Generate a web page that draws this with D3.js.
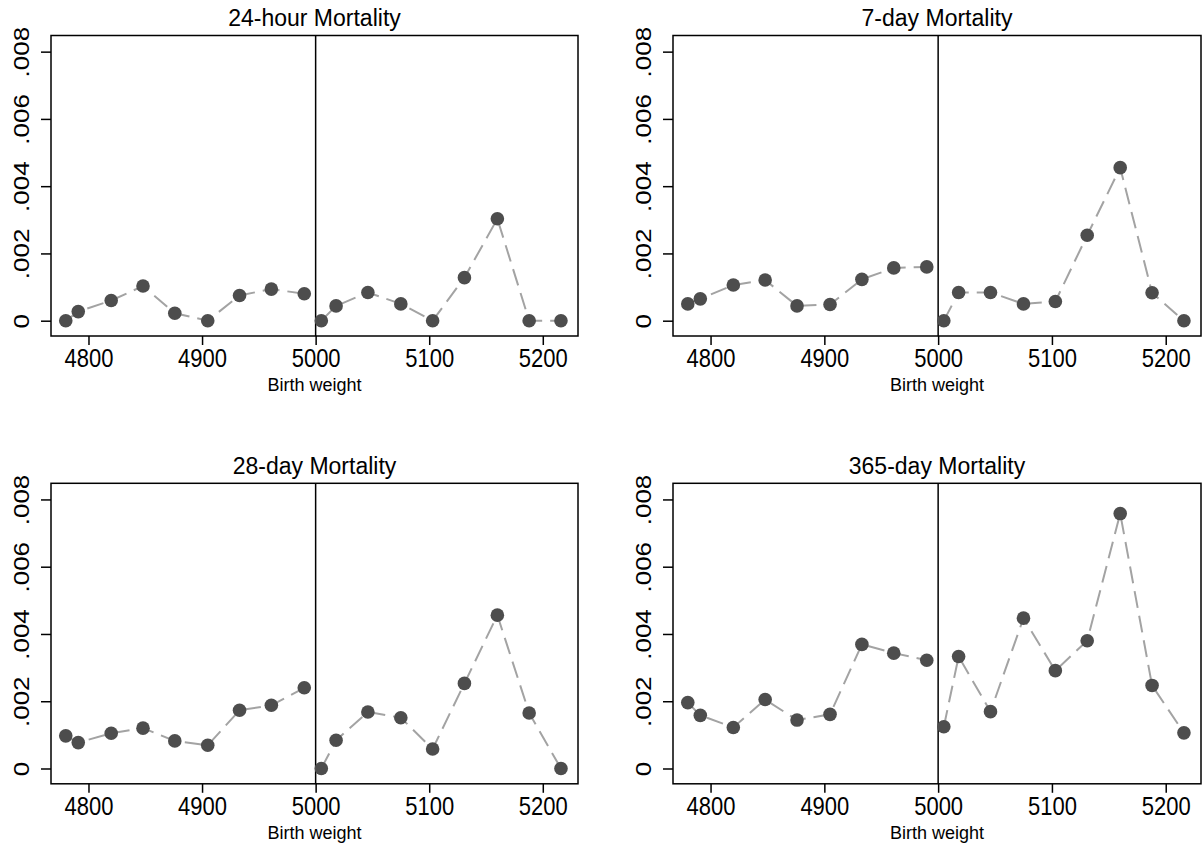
<!DOCTYPE html>
<html>
<head>
<meta charset="utf-8">
<script src="https://cdn.jsdelivr.net/npm/d3@7"></script>
<style>
    body { margin: 0; background: #ffffff; }
    svg { display: block; }
</style>
</head>
<body>
<svg id="drawing_region"></svg>
<script>

// birth weight bins (grams)
const weights = [4780, 4791, 4820, 4848, 4876, 4905, 4933, 4961, 4990,
                 5005, 5018, 5046, 5075, 5103, 5131, 5160, 5188, 5216];

const mort24  = [0, 0.00027, 0.0006, 0.00103, 0.00022, 0, 0.00075, 0.00094, 0.0008,
                 0, 0.00044, 0.00084, 0.0005, 0, 0.00128, 0.00303, 0, 0];
const mort7   = [0.0005, 0.00065, 0.00106, 0.00121, 0.00044, 0.00048, 0.00123, 0.00157, 0.0016,
                 0, 0.00084, 0.00084, 0.0005, 0.00057, 0.00254, 0.00455, 0.00083, 0];
const mort28  = [0.00097, 0.00077, 0.00105, 0.0012, 0.00082, 0.00069, 0.00173, 0.00188, 0.0024,
                 0, 0.00084, 0.00168, 0.00151, 0.00058, 0.00253, 0.00456, 0.00165, 0];
const mort365 = [0.00196, 0.00158, 0.00122, 0.00205, 0.00144, 0.00161, 0.00369, 0.00343, 0.00322,
                 0.00124, 0.00333, 0.00169, 0.00447, 0.00291, 0.0038, 0.00758, 0.00247, 0.00106];

const titles = ["24-hour Mortality", "7-day Mortality", "28-day Mortality", "365-day Mortality"];
const xTicks = [4800, 4900, 5000, 5100, 5200];
const yTicks = [0, 0.002, 0.004, 0.006, 0.008];
const yTickLabels = ["0", ".002", ".004", ".006", ".008"];
const cutoff = 5000;
const xLabel = "Birth weight";


class MortalityPlot {

    constructor(config, data) {
        this.config = {
            parent: config.parent,
            left: config.left,
            top: config.top,
            width: config.width || 527,
            height: config.height || 300,
            title: config.title
        };
        this.data = data;
        this.font = "'Liberation Sans', Arial, Helvetica, sans-serif";
        this.init();
    }

    init() {
        let self = this;

        self.chart = d3.select(self.config.parent).append('g')
            .attr('transform', `translate(${self.config.left}, ${self.config.top})`);

        self.xscale = d3.scaleLinear()
            .domain([4767, 5231])
            .range([0, self.config.width]);

        self.yscale = d3.scaleLinear()
            .domain([-0.000455, 0.00848])
            .range([self.config.height, 0]);

        self.xaxis = d3.axisBottom(self.xscale)
            .tickValues(xTicks)
            .tickFormat(d3.format('d'))
            .tickSize(9)
            .tickSizeOuter(0);

        self.yaxis = d3.axisLeft(self.yscale)
            .tickValues(yTicks)
            .tickFormat((d, i) => yTickLabels[i])
            .tickSize(10)
            .tickSizeOuter(0);

        self.xaxis_group = self.chart.append('g')
            .attr('transform', `translate(0, ${self.config.height})`)
            .call(self.xaxis);

        self.yaxis_group = self.chart.append('g')
            .call(self.yaxis);

        self.xaxis_group.select('.domain').remove();
        self.yaxis_group.select('.domain').remove();

        self.xaxis_group.selectAll('line').attr('stroke', '#000').attr('stroke-width', 1.5);
        self.yaxis_group.selectAll('line').attr('stroke', '#000').attr('stroke-width', 1.5);

        // labels in the original look a bit stretched, hence the scale()
        self.xaxis_group.selectAll('text')
            .attr('transform', 'translate(0, 31) scale(1, 1.15)')
            .attr('y', 0)
            .attr('dy', null)
            .style('font-family', self.font)
            .style('font-size', '22px')
            .attr('fill', '#000');

        self.yaxis_group.selectAll('text')
            .attr('transform', 'rotate(-90) scale(1.18, 1)')
            .attr('x', 0)
            .attr('y', -22)
            .attr('dy', null)
            .attr('text-anchor', 'middle')
            .style('font-family', self.font)
            .style('font-size', '22px')
            .attr('fill', '#000');
    }

    update() {
        let self = this;
        self.render();
    }

    render() {
        let self = this;

        // plot frame
        self.chart.append('rect')
            .attr('x', 0)
            .attr('y', 0)
            .attr('width', self.config.width)
            .attr('height', self.config.height)
            .attr('fill', 'none')
            .attr('stroke', '#000')
            .attr('stroke-width', 1.5);

        // cutoff line
        self.chart.append('line')
            .attr('x1', self.xscale(cutoff))
            .attr('x2', self.xscale(cutoff))
            .attr('y1', 0)
            .attr('y2', self.config.height)
            .attr('stroke', '#000')
            .attr('stroke-width', 1.5);

        const line = d3.line()
            .x(d => self.xscale(d.x))
            .y(d => self.yscale(d.y));

        const below = self.data.filter(d => d.x < cutoff);
        const above = self.data.filter(d => d.x >= cutoff);

        self.chart.selectAll('path.series').data([below, above]).enter()
            .append('path')
            .attr('class', 'series')
            .attr('d', line)
            .attr('fill', 'none')
            .attr('stroke', '#a3a3a3')
            .attr('stroke-width', 2)
            .attr('stroke-dasharray', '17,8');

        self.chart.selectAll('circle').data(self.data).enter()
            .append('circle')
            .attr('cx', d => self.xscale(d.x))
            .attr('cy', d => self.yscale(d.y))
            .attr('r', 6.8)
            .attr('fill', '#4d4d4d');

        self.chart.append('text')
            .attr('x', self.config.width / 2)
            .attr('y', -9.5)
            .attr('text-anchor', 'middle')
            .style('font-family', self.font)
            .style('font-size', '23px')
            .text(self.config.title);

        self.chart.append('text')
            .attr('x', self.config.width / 2)
            .attr('y', self.config.height + 55)
            .attr('text-anchor', 'middle')
            .style('font-family', self.font)
            .style('font-size', '18px')
            .text(xLabel);
    }
}


d3.select('#drawing_region')
    .attr('width', 1203)
    .attr('height', 846);

const series = [mort24, mort7, mort28, mort365];
const panels = [
    {left: 51,  top: 35.5,  width: 527, height: 300.5},
    {left: 673, top: 35.5,  width: 528, height: 300.5},
    {left: 51,  top: 483.3, width: 527, height: 300.5},
    {left: 673, top: 483.3, width: 528, height: 300.5}
];

series.forEach((values, i) => {
    const data = weights.map((w, j) => ({x: w, y: values[j]}));
    const plot = new MortalityPlot({
        parent: '#drawing_region',
        left: panels[i].left,
        top: panels[i].top,
        width: panels[i].width,
        height: panels[i].height,
        title: titles[i]
    }, data);
    plot.update();
});

</script>
</body>
</html>
